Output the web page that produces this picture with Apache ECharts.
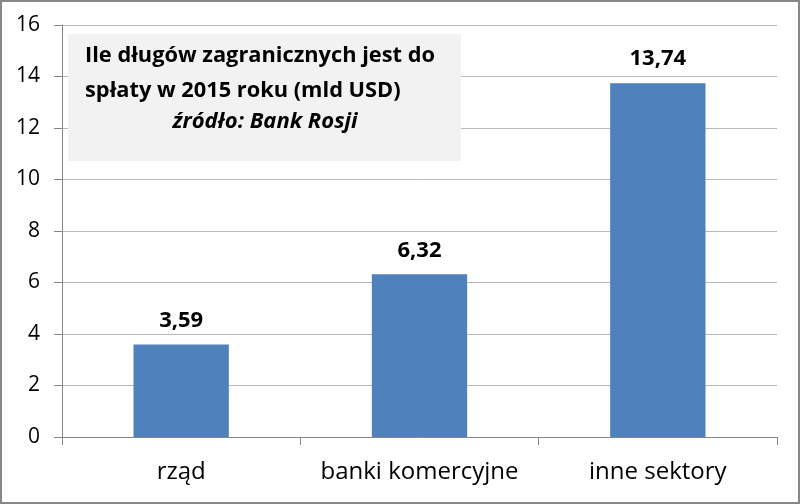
<!DOCTYPE html>
<html>
<head>
<meta charset="utf-8">
<script src="https://cdn.jsdelivr.net/npm/echarts@6/dist/echarts.min.js"></script>
<style>
  html, body { margin: 0; padding: 0; background: #fff; }
  #chart { width: 800px; height: 504px; box-sizing: border-box; border: 2px solid #878787; }
</style>
</head>
<body>
<div id="chart"></div>
<script>
// Foreign debt due in 2015 by sector (bn USD)
const categories = ['rząd', 'banki komercyjne', 'inne sektory'];
const values = [3.59, 6.32, 13.74];
const yTicks = [0, 2, 4, 6, 8, 10, 12, 14, 16];

const FONT = '"Open Sans"';
const chart = echarts.init(document.getElementById('chart'), null, { renderer: 'canvas' });

chart.setOption({
  animation: false,
  textStyle: { fontFamily: FONT },
  grid: { left: 60, right: 21, top: 23, bottom: 65 },
  xAxis: {
    type: 'category',
    data: categories,
    axisLine: { lineStyle: { color: '#868686', width: 1 } },
    axisTick: { show: true, length: 8, alignWithLabel: false, lineStyle: { color: '#868686' } },
    axisLabel: { color: '#000', fontSize: 24, margin: 23, fontFamily: FONT, interval: 0, hideOverlap: false }
  },
  yAxis: {
    type: 'value',
    min: yTicks[0],
    max: yTicks[yTicks.length - 1],
    interval: 2,
    axisLine: { show: true, lineStyle: { color: '#868686', width: 1 } },
    axisTick: { show: true, length: 8, lineStyle: { color: '#868686' } },
    splitLine: { lineStyle: { color: '#B9B9B9', width: 1 } },
    axisLabel: { color: '#000', fontSize: 21, margin: 22, fontFamily: FONT }
  },
  series: [{
    type: 'bar',
    data: values,
    barWidth: '40%',
    itemStyle: { color: '#4F81BD' },
    label: {
      show: true,
      position: 'top',
      distance: 13,
      color: '#000',
      fontSize: 22,
      fontWeight: 'bold',
      fontFamily: FONT,
      formatter: p => p.value.toFixed(2).replace('.', ',')
    }
  }],
  graphic: [
    { type: 'rect', left: 66, top: 32, shape: { width: 393, height: 127 }, style: { fill: '#F2F2F2' }, z: 10 },
    { type: 'text', x: 83, y: 43, z: 11,
      style: { text: 'Ile długów zagranicznych jest do', fill: '#000', font: 'bold 21.8px ' + FONT } },
    { type: 'text', x: 83, y: 78, z: 11,
      style: { text: 'spłaty w 2015 roku (mld USD)', fill: '#000', font: 'bold 21.8px ' + FONT } },
    { type: 'text', x: 263, y: 109, z: 11,
      style: { text: 'źródło: Bank Rosji', fill: '#000', textAlign: 'center', font: 'italic bold 22px ' + FONT } }
  ]
});
</script>
</body>
</html>
